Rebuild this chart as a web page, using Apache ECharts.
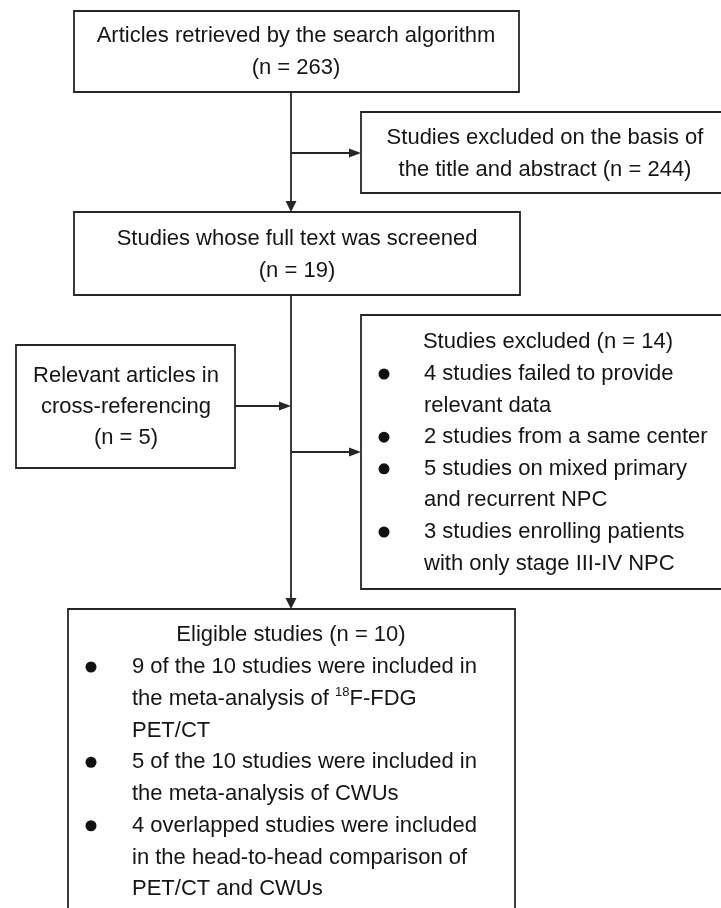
<!DOCTYPE html>
<html>
<head>
<meta charset="utf-8">
<script src="https://cdn.jsdelivr.net/npm/echarts@6/dist/echarts.min.js"></script>
<style>
html,body{margin:0;padding:0;background:#fff;}
#main{width:721px;height:908px;}
</style>
</head>
<body>
<div id="main"></div>
<script>
// ---- data ----
var counts = { retrieved: 263, excludedTitle: 244, fullText: 19, crossRef: 5, excludedFull: 14, eligible: 10 };
var box1Lines = ['Articles retrieved by the search algorithm', '(n = ' + counts.retrieved + ')'];
var excl1Lines = ['Studies excluded on the basis of', 'the title and abstract (n = ' + counts.excludedTitle + ')'];
var box2Lines = ['Studies whose full text was screened', '(n = ' + counts.fullText + ')'];
var relLines = ['Relevant articles in', 'cross-referencing', '(n = ' + counts.crossRef + ')'];
var excl2Title = 'Studies excluded (n = ' + counts.excludedFull + ')';
var excl2Bullets = [
  ['4 studies failed to provide', 'relevant data'],
  ['2 studies from a same center'],
  ['5 studies on mixed primary', 'and recurrent NPC'],
  ['3 studies enrolling patients', 'with only stage III-IV NPC']
];
var eligTitle = 'Eligible studies (n = ' + counts.eligible + ')';
var eligBullets = [
  ['9 of the 10 studies were included in', 'the meta-analysis of {s|18}F-FDG', 'PET/CT'],
  ['5 of the 10 studies were included in', 'the meta-analysis of CWUs'],
  ['4 overlapped studies were included', 'in the head-to-head comparison of', 'PET/CT and CWUs']
];

// ---- drawing ----
var FONT = '"Liberation Sans", Arial, Helvetica, sans-serif';
var FS = 22;
var TXT = '#151515';
var LINE = '#262626';
var LW = 1.8;
var els = [];

function rect(x, y, w, h) {
  els.push({ type: 'rect', shape: { x: x, y: y, width: w, height: h },
    style: { fill: '#fff', stroke: LINE, lineWidth: LW }, z: 1 });
}
function seg(x1, y1, x2, y2) {
  els.push({ type: 'line', shape: { x1: x1, y1: y1, x2: x2, y2: y2 },
    style: { stroke: LINE, lineWidth: LW }, z: 2 });
}
function headDown(x, y) {
  els.push({ type: 'polygon', shape: { points: [[x - 5.5, y - 11], [x + 5.5, y - 11], [x, y]] },
    style: { fill: LINE }, z: 3 });
}
function headRight(x, y) {
  els.push({ type: 'polygon', shape: { points: [[x - 12, y - 4.5], [x - 12, y + 4.5], [x, y]] },
    style: { fill: LINE }, z: 3 });
}
function text(str, x, y, align) {
  els.push({ type: 'text', x: x, y: y, z: 5,
    style: { text: str, fill: TXT, font: FS + 'px ' + FONT, fontSize: FS, fontFamily: FONT,
      align: align || 'center', verticalAlign: 'middle',
      rich: { s: { fontSize: 13, fontFamily: FONT, fill: TXT, padding: [0, 0, 12, 0] } } } });
}
function dot(x, y) {
  els.push({ type: 'circle', shape: { cx: x, cy: y, r: 5.5 }, style: { fill: '#111' }, z: 5 });
}
function centeredLines(lines, cx, y0, lh) {
  lines.forEach(function (l, i) { text(l, cx, y0 + i * lh, 'center'); });
}
function bulletList(groups, bx, tx, y0, lh) {
  var k = 0;
  groups.forEach(function (g) {
    g.forEach(function (l, j) {
      if (j === 0) dot(bx, y0 + k * lh);
      text(l, tx, y0 + k * lh, 'left');
      k++;
    });
  });
}

// boxes
rect(74, 11, 445, 81);
centeredLines(box1Lines, 296, 36, 32);

rect(361, 112, 370, 81);
centeredLines(excl1Lines, 545, 138, 32);

rect(74, 212, 446, 83);
centeredLines(box2Lines, 297, 239, 32);

rect(16, 345, 219, 123);
centeredLines(relLines, 126, 376, 31);

rect(361, 315, 370, 274);
text(excl2Title, 548, 342, 'center');
bulletList(excl2Bullets, 384, 424, 374, 31.6);

rect(68, 609, 447, 330);
text(eligTitle, 291, 635, 'center');
bulletList(eligBullets, 91, 132, 667, 31.75);

// connectors
seg(291, 92, 291, 208); headDown(291, 212);
seg(291, 153, 356, 153); headRight(361, 153);
seg(291, 295, 291, 605); headDown(291, 609);
seg(235, 406, 286, 406); headRight(291, 406);
seg(291, 452, 356, 452); headRight(361, 452);

var chart = echarts.init(document.getElementById('main'), null, { renderer: 'canvas' });
chart.setOption({
  backgroundColor: '#fff',
  animation: false,
  graphic: { elements: els }
});
</script>
</body>
</html>
